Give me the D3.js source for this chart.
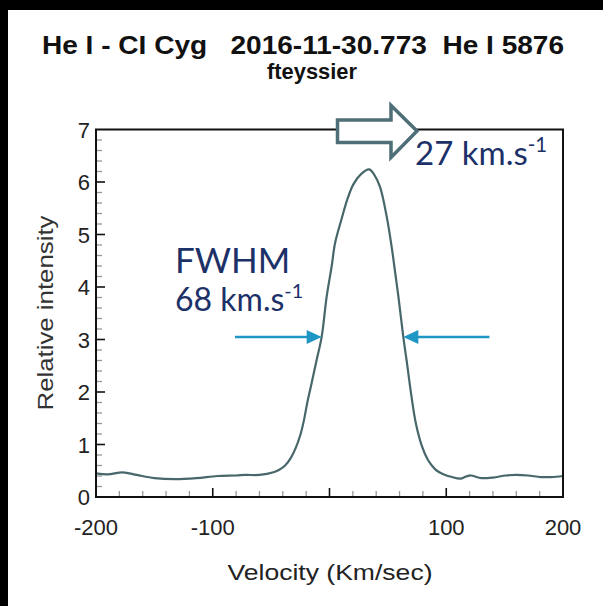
<html>
  <head>
    <title>He I - CI Cyg</title>
    <script src="https://d3js.org/d3.v7.min.js"></script>
    <style>
      body { margin: 0; background-color: #fff; }
      svg { display: block; }
    </style>
  </head>
  <body>
    <svg width="603" height="606"></svg>
    <script>
      // profile: velocity (km/s) and relative intensity
      var velocity = [-200, -190, -177, -165, -150, -132, -114, -96, -80, -72, -60, -48, -43, -38, -33,
        -29, -25, -22, -19, -16, -11, -6.7, -2.4, 1.9, 4.7, 10.4, 15, 20.3, 27, 34, 38, 43.2, 49,
        53.2, 55.5, 59, 63.2, 66, 70, 74, 79, 84, 88, 92, 97, 105, 112, 117, 121, 130, 140, 151,
        160, 170, 181, 190, 200];
      var intensity = [0.45, 0.43, 0.47, 0.42, 0.36, 0.34, 0.36, 0.40, 0.41, 0.42, 0.42, 0.47, 0.52, 0.6, 0.75,
        0.93, 1.18, 1.45, 1.8, 2.1, 2.61, 3.05, 3.82, 4.4, 4.83, 5.3, 5.65, 5.95, 6.15, 6.24, 6.15, 5.91, 5.34,
        4.77, 4.4, 3.82, 3.05, 2.61, 1.95, 1.4, 0.98, 0.72, 0.59, 0.5, 0.44, 0.38, 0.35, 0.39, 0.41, 0.36, 0.37, 0.41,
        0.42, 0.41, 0.38, 0.38, 0.40];

      var xTickLabels = [-200, -100, 100, 200];
      var yTickLabels = [0, 1, 2, 3, 4, 5, 6, 7];

      // annotations
      var fwhmLevel = 3.05;
      var fwhmLeft = [-81, -6.7];
      var fwhmRight = [137, 63.2];

      var svg = d3.select("svg");

      // black frame of the slide
      svg.append("rect").attr("x", 0).attr("y", 0).attr("width", 603).attr("height", 10).attr("fill", "#000");
      svg.append("rect").attr("x", 0).attr("y", 0).attr("width", 8).attr("height", 606).attr("fill", "#000");

      var pLeft = 96, pRight = 563, pTop = 129.5, pBottom = 497;
      var x = d3.scaleLinear().domain([-200, 200]).range([pLeft, pRight]);
      var y = d3.scaleLinear().domain([0, 7]).range([pBottom, pTop]);

      // titles
      svg.append("text")
        .attr("x", 303).attr("y", 54)
        .attr("text-anchor", "middle")
        .attr("textLength", 522).attr("lengthAdjust", "spacingAndGlyphs")
        .style("white-space", "pre")
        .style("font-family", "Liberation Sans, Arial, sans-serif")
        .style("font-weight", "bold").style("font-size", "26px").attr("fill", "#111")
        .text("He I - CI Cyg   2016-11-30.773  He I 5876");
      svg.append("text")
        .attr("x", 312).attr("y", 79)
        .attr("text-anchor", "middle")
        .attr("textLength", 90).attr("lengthAdjust", "spacingAndGlyphs")
        .style("font-family", "Liberation Sans, Arial, sans-serif")
        .style("font-weight", "bold").style("font-size", "22px").attr("fill", "#111")
        .text("fteyssier");

      // minor ticks
      var g = svg.append("g");
      g.selectAll(".xminor").data(d3.range(-180, 200, 20).filter(function(d){ return d % 100 !== 0; }))
        .enter().append("line")
        .attr("x1", function(d){ return x(d); }).attr("x2", function(d){ return x(d); })
        .attr("y1", pBottom).attr("y2", pBottom - 6)
        .attr("stroke", "#999").attr("stroke-width", 1.3);
      g.selectAll(".yminor").data(d3.range(0.2, 7, 0.2).filter(function(d){ return Math.abs(d - Math.round(d)) > 0.01; }))
        .enter().append("line")
        .attr("x1", pLeft).attr("x2", pLeft + 6)
        .attr("y1", function(d){ return y(d); }).attr("y2", function(d){ return y(d); })
        .attr("stroke", "#999").attr("stroke-width", 1.3);

      // major ticks
      g.selectAll(".xmajor").data([-100, 0, 100])
        .enter().append("line")
        .attr("x1", function(d){ return x(d); }).attr("x2", function(d){ return x(d); })
        .attr("y1", pBottom).attr("y2", pBottom - 9)
        .attr("stroke", "#111").attr("stroke-width", 1.6);
      g.selectAll(".ymajor").data(d3.range(1, 7))
        .enter().append("line")
        .attr("x1", pLeft).attr("x2", pLeft + 9)
        .attr("y1", function(d){ return y(d); }).attr("y2", function(d){ return y(d); })
        .attr("stroke", "#111").attr("stroke-width", 1.6);

      // tick labels
      svg.selectAll(".xlab").data(xTickLabels).enter().append("text")
        .attr("x", function(d){ return x(d); }).attr("y", 535)
        .attr("text-anchor", "middle")
        .style("font-family", "Liberation Sans, Arial, sans-serif").style("font-size", "22px")
        .attr("fill", "#222")
        .text(function(d){ return d; });
      svg.selectAll(".ylab").data(yTickLabels).enter().append("text")
        .attr("x", 90).attr("y", function(d){ return y(d) + 8; })
        .attr("text-anchor", "end")
        .style("font-family", "Liberation Sans, Arial, sans-serif").style("font-size", "22px")
        .attr("fill", "#222")
        .text(function(d){ return d; });

      // axis titles
      svg.append("text")
        .attr("x", 330).attr("y", 580)
        .attr("text-anchor", "middle")
        .attr("textLength", 205).attr("lengthAdjust", "spacingAndGlyphs")
        .style("font-family", "Liberation Sans, Arial, sans-serif").style("font-size", "22px")
        .attr("fill", "#222")
        .text("Velocity (Km/sec)");
      svg.append("text")
        .attr("transform", "translate(53,313) rotate(-90)")
        .attr("text-anchor", "middle")
        .attr("textLength", 195).attr("lengthAdjust", "spacingAndGlyphs")
        .style("font-family", "Liberation Sans, Arial, sans-serif").style("font-size", "22px")
        .attr("fill", "#333")
        .text("Relative intensity");

      // profile line
      var line = d3.line()
        .x(function(d, i){ return x(velocity[i]); })
        .y(function(d){ return y(d); })
        .curve(d3.curveCatmullRom.alpha(0.5));
      svg.append("path")
        .datum(intensity)
        .attr("d", line)
        .attr("fill", "none")
        .attr("stroke", "#47676a")
        .attr("stroke-width", 2.2);

      // plot frame
      svg.append("rect")
        .attr("x", pLeft).attr("y", pTop)
        .attr("width", pRight - pLeft).attr("height", pBottom - pTop)
        .attr("fill", "none").attr("stroke", "#111").attr("stroke-width", 2);

      // FWHM arrows
      var blue = "#1f97c4";
      [fwhmLeft, fwhmRight].forEach(function(a){
        var x0 = x(a[0]), x1 = x(a[1]), yy = y(fwhmLevel);
        var dir = x1 > x0 ? 1 : -1;
        svg.append("line")
          .attr("x1", x0).attr("x2", x1 - dir * 12)
          .attr("y1", yy).attr("y2", yy)
          .attr("stroke", blue).attr("stroke-width", 2.5);
        svg.append("path")
          .attr("d", "M" + x1 + "," + yy + "L" + (x1 - dir * 15) + "," + (yy - 7) + "L" + (x1 - dir * 15) + "," + (yy + 7) + "Z")
          .attr("fill", blue);
      });

      // big hollow arrow (shift of the peak)
      svg.append("path")
        .attr("d", "M337.5,120 L391,120 L391,105.5 L417,131 L391,157.5 L391,142.5 L337.5,142.5 Z")
        .attr("fill", "#fff")
        .attr("stroke", "#4e6e78")
        .attr("stroke-width", 3.5)
        .attr("stroke-linejoin", "miter");

      // annotation text
      var navy = "#1c3168";
      svg.append("text")
        .attr("x", 175).attr("y", 273)
        .style("font-family", "Lato, 'Open Sans', sans-serif").style("font-size", "35px")
        .attr("fill", navy)
        .text("FWHM");

      function kms(xx, yy, num, size) {
        var t = svg.append("text")
          .attr("x", xx).attr("y", yy)
          .style("font-family", "Lato, 'Open Sans', sans-serif").style("font-size", size + "px")
          .attr("fill", navy);
        t.append("tspan").text(num + " km.s");
        t.append("tspan").attr("dy", -13).style("font-size", (size * 0.62) + "px").text("-1");
      }
      kms(175, 311, "68", 32);
      kms(415, 165, "27", 33);
    </script>
  </body>
</html>
